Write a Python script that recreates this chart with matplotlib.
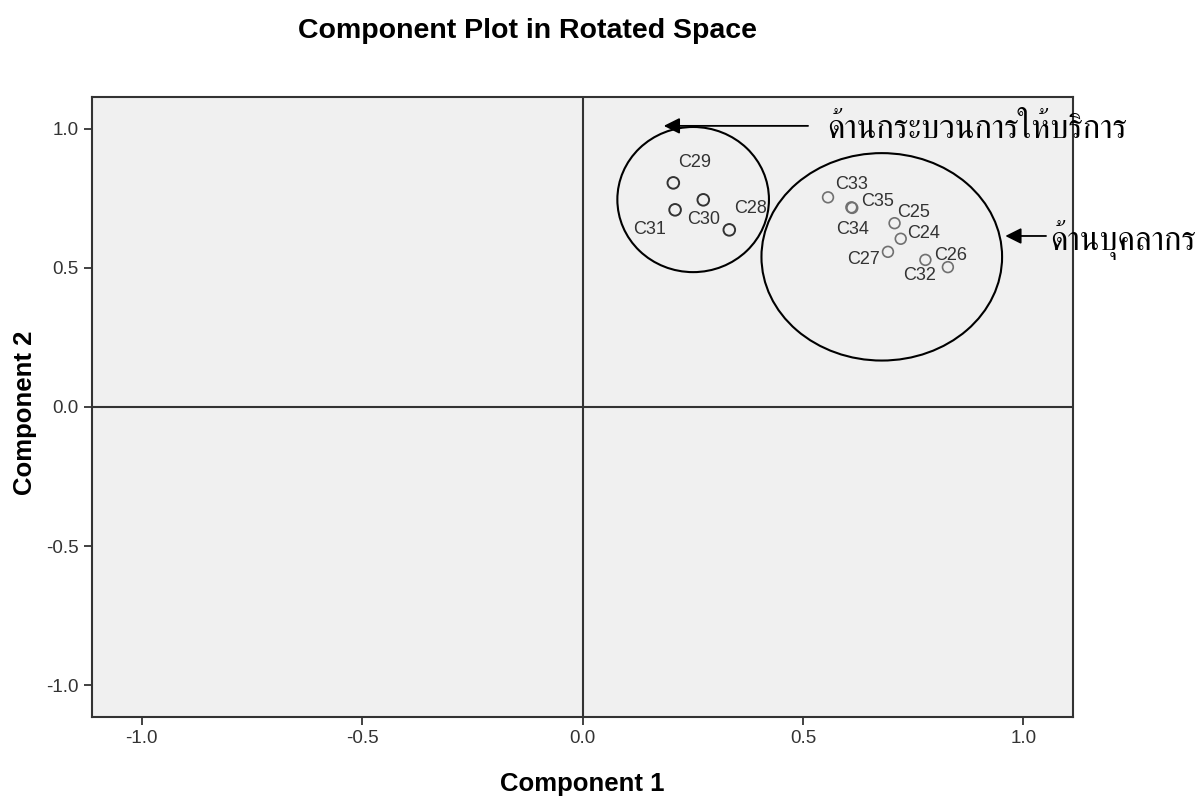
import matplotlib
matplotlib.use("Agg")
import matplotlib.pyplot as plt
from matplotlib.patches import Ellipse

# component loadings
labels = ["C29", "C30", "C31", "C28",
          "C33", "C35", "C34", "C25", "C24", "C27", "C32", "C26"]
comp1 = [0.206, 0.274, 0.210, 0.333,
         0.557, 0.610, 0.612, 0.708, 0.722, 0.693, 0.778, 0.829]
comp2 = [0.806, 0.745, 0.709, 0.637,
         0.754, 0.718, 0.716, 0.661, 0.605, 0.558, 0.529, 0.503]
# label offsets in pixels (dx right, dy down)
offsets = [(21, -20), (0, 20), (-26, 20), (21, -21),
           (24, -13), (26, -6), (0, 22), (19, -11), (23, -5), (-24, 8), (-6, 16), (3, -12)]

ticks = [-1.0, -0.5, 0.0, 0.5, 1.0]
group_names = ["ด้านกระบวนการให้บริการ", "ด้านบุคลากร"]
thai_fonts = ['Norasi', 'FreeSerif', 'Noto Sans Thai', 'DejaVu Sans']

plt.rcParams['font.family'] = ['Liberation Sans', 'DejaVu Sans']

fig = plt.figure(figsize=(12, 7.98), dpi=100)
ax = fig.add_axes([0.0767, 0.1015, 0.8175, 0.777])
ax.set_facecolor('#f0f0f0')

ax.scatter(comp1[:4], comp2[:4], s=70, facecolors='none', edgecolors='#333333', linewidths=1.4, zorder=3)
ax.scatter(comp1[4:], comp2[4:], s=60, facecolors='none', edgecolors='#707070', linewidths=1.2, zorder=3)
for lab, x, y, (dx, dy) in zip(labels, comp1, comp2, offsets):
    ax.annotate(lab, (x, y), xytext=(dx, -dy), textcoords='offset pixels',
                ha='center', va='center', fontsize=13, color='#333333')

ax.axhline(0, color='#333333', lw=1.5, zorder=1)
ax.axvline(0, color='#333333', lw=1.5, zorder=1)

ax.add_patch(Ellipse((0.251, 0.746), 0.344, 0.522, fill=False, ec='black', lw=1.5, zorder=4))
ax.add_patch(Ellipse((0.679, 0.540), 0.546, 0.746, fill=False, ec='black', lw=1.5, zorder=4))

ax.annotate("", xy=(0.178, 1.011), xytext=(0.518, 1.011),
            arrowprops=dict(arrowstyle='-|>', color='black', lw=1.3, mutation_scale=24))
ax.text(0.555, 0.968, group_names[0], fontsize=23.5, family=thai_fonts,
        va='baseline', ha='left', clip_on=False)
ax.annotate("", xy=(0.953, 0.615), xytext=(1.058, 0.615),
            arrowprops=dict(arrowstyle='-|>', color='black', lw=1.3, mutation_scale=24),
            annotation_clip=False)
ax.text(1.062, 0.565, group_names[1], fontsize=23.5, family=thai_fonts,
        va='baseline', ha='left', clip_on=False)

ax.set_xlim(-1.113, 1.113)
ax.set_ylim(-1.115, 1.115)
ax.set_xticks(ticks)
ax.set_yticks(ticks)
ax.set_xticklabels([f"{t:.1f}" for t in ticks])
ax.set_yticklabels([f"{t:.1f}" for t in ticks])
ax.tick_params(labelsize=13.5, labelcolor='#333333', length=6, width=1.3, color='#333333')
for s in ax.spines.values():
    s.set_linewidth(1.5)
    s.set_color('#333333')

ax.set_xlabel("Component 1", fontsize=18.5, fontweight='bold')
ax.xaxis.set_label_coords(0.5, -0.088)
ax.set_ylabel("Component 2", fontsize=18.5, fontweight='bold')
ax.yaxis.set_label_coords(-0.056, 0.49)
fig.text(0.440, 0.9524, "Component Plot in Rotated Space", fontsize=20.5,
         fontweight='bold', ha='center', va='baseline')

fig.savefig("out.png", dpi=100)
